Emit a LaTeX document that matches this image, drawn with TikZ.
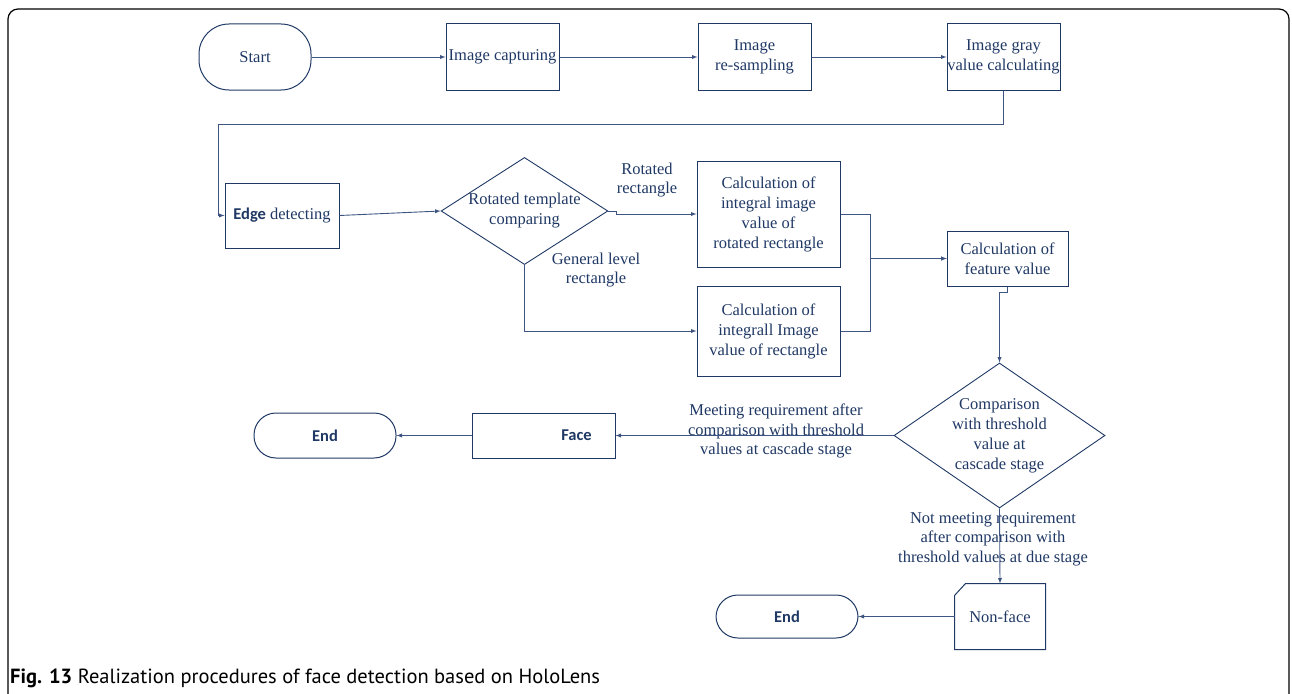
\documentclass[tikz,border=0pt]{standalone}
\usepackage{fontspec}
\setmainfont{Liberation Serif}
\newfontfamily\bsans{Carlito}
\newfontfamily\capsans{PT Sans}
\usepackage{xcolor}
\usepackage{tikz}
\usetikzlibrary{calc, arrows, shapes, positioning}
\definecolor{navy}{RGB}{31,56,100}
\definecolor{linec}{RGB}{62,84,130}
\tikzset{
    termnode/.style = {draw=navy, rectangle, line width=1pt, inner sep=0em, node distance=0em,
      minimum width=142pt, minimum height=45pt, rounded corners=22pt, text=navy,
      font=\fontsize{16.5}{20}\selectfont},
    rectanglenode/.style = {draw=navy, rectangle, line width=1pt, inner sep=0em, node distance=0em,
      text=navy, font=\fontsize{16.5}{20}\selectfont},
    diamondnode/.style = {draw=navy, diamond, line width=0.9pt, inner sep=0em, node distance=0em,
      text=navy, font=\fontsize{16.5}{20}\selectfont},
    textnode/.style  = {draw=none, fill=none, rectangle, minimum size=0cm, inner sep=0em,
      node distance=0em, text=navy, font=\fontsize{16.5}{19.5}\selectfont},
    connect/.style = {linec, line width=0.9pt, -latex},
    every text node part/.style={align=center}
}

\begin{document}
\begin{tikzpicture}[x=1pt, y=1pt]
    \useasboundingbox (0,0) rectangle (1292,-693);
    \draw [black, line width=1.2pt, rounded corners=10pt] (8,-720) -- (8,-9) -- (1289,-9) -- (1289,-720);

    % top row
    \node [name=start, termnode, minimum width=112pt, minimum height=66pt, rounded corners=30pt] at (255,-57) {Start};
    \node [name=cap, rectanglenode, minimum width=113pt, minimum height=66pt,
        right of = start, xshift=247.5pt] {Image capturing};
    \node [name=resamp, rectanglenode, minimum width=113pt, minimum height=66pt,
        right of = start, xshift=499.5pt] {Image\\re-sampling};
    \node [name=gray, rectanglenode, minimum width=113pt, minimum height=66pt,
        right of = start, xshift=748.5pt] {Image gray\\value calculating};

    % middle part
    \node [name=edge, rectanglenode, minimum width=114pt, minimum height=65pt,
        right of = start, xshift=27pt, yshift=-158.5pt] {{\bsans\bfseries Edge} detecting};
    \node [name=d1, diamondnode, aspect=1.557, minimum width=165pt, minimum height=106pt,
        right of = start, xshift=269.5pt, yshift=-154pt] {Rotated template\\comparing};
    \node [name=calc1, rectanglenode, minimum width=143pt, minimum height=106pt,
        right of = start, xshift=513.5pt, yshift=-157pt] {Calculation of\\integral image\\value of\\rotated rectangle};
    \node [name=calc2, rectanglenode, minimum width=143pt, minimum height=90pt,
        right of = start, xshift=513.5pt, yshift=-274pt] {Calculation of\\integrall Image\\value of rectangle};
    \node [name=feature, rectanglenode, minimum width=121pt, minimum height=55pt,
        right of = start, xshift=752.5pt, yshift=-201.5pt] {Calculation of\\feature value};

    % lower part
    \node [name=d2, diamondnode, aspect=1.455, minimum width=211pt, minimum height=145pt,
        right of = start, xshift=744.5pt, yshift=-378.5pt] {Comparison\\with threshold\\value at\\cascade stage};
    \node [name=face, rectanglenode, minimum width=143pt, minimum height=45pt,
        right of = start, xshift=288.5pt, yshift=-378.5pt] {\hspace*{66pt}{\bsans\bfseries Face}};
    \node [name=end1, termnode, right of = start, xshift=70pt, yshift=-378.5pt] {\bsans\bfseries End};
    \node [name=nonface, rectanglenode, draw=none, minimum width=90pt, minimum height=65pt,
        right of = start, xshift=745pt, yshift=-559.5pt] {Non-face};
    \draw [navy, line width=1pt] (nonface.south west) -- ([yshift=-12pt]nonface.north west)
        -- ([xshift=11pt]nonface.north west) -- (nonface.north east) -- (nonface.south east) -- cycle;
    \node [name=end2, termnode, minimum height=43pt, right of = start, xshift=532pt, yshift=-559.5pt] {\bsans\bfseries End};

    % labels
    \node [name=rotlbl, textnode, right of = d1, xshift=122.5pt, yshift=31pt] {Rotated\\rectangle};
    \node [name=genlbl, textnode, right of = d1, xshift=71.5pt, yshift=-59pt] {General level\\rectangle};
    \node [name=meetlbl, textnode, right of = d2, xshift=-223.5pt, yshift=4.5pt] {Meeting requirement after\\comparison with threshold\\values at cascade stage};
    \node [name=notlbl, textnode, right of = d2, xshift=-6.5pt, yshift=-103.5pt] {Not meeting requirement\\after comparison with\\threshold values at due stage};

    % connectors
    \draw [connect] (start.east) -- (cap.west);
    \draw [connect] (cap.east) -- (resamp.west);
    \draw [connect] (resamp.east) -- (gray.west);
    \draw [connect] (gray.south) -- ++(0,-34) -| ([xshift=-6pt]edge.west) -- (edge.west);
    \draw [connect] (edge.east) -- (d1.west);
    \draw [connect] (d1.east) -- ++(8,0) |- (calc1.west);
    \draw [connect] (d1.south) |- (calc2.west);
    \draw [connect] (calc1.east) -- ++(30,0) |- (feature.west);
    \draw [connect] (calc2.east) -- ++(30,0) |- (feature.west);
    \draw [connect] (feature.south) -- ++(0,-6) -| (d2.north);
    \draw [connect] (d2.west) -- (face.east);
    \draw [connect] (face.west) -- (end1.east);
    \draw [connect] (d2.south) -- (nonface.north);
    \draw [connect] (nonface.west) -- (end2.east);

    % caption
    \node [name=caption, textnode, anchor=base west, text=black, font=\capsans\fontsize{20.5}{24}\selectfont]
        at (10,-683) {\textbf{Fig. 13} Realization procedures of face detection based on HoloLens};
\end{tikzpicture}
\end{document}
